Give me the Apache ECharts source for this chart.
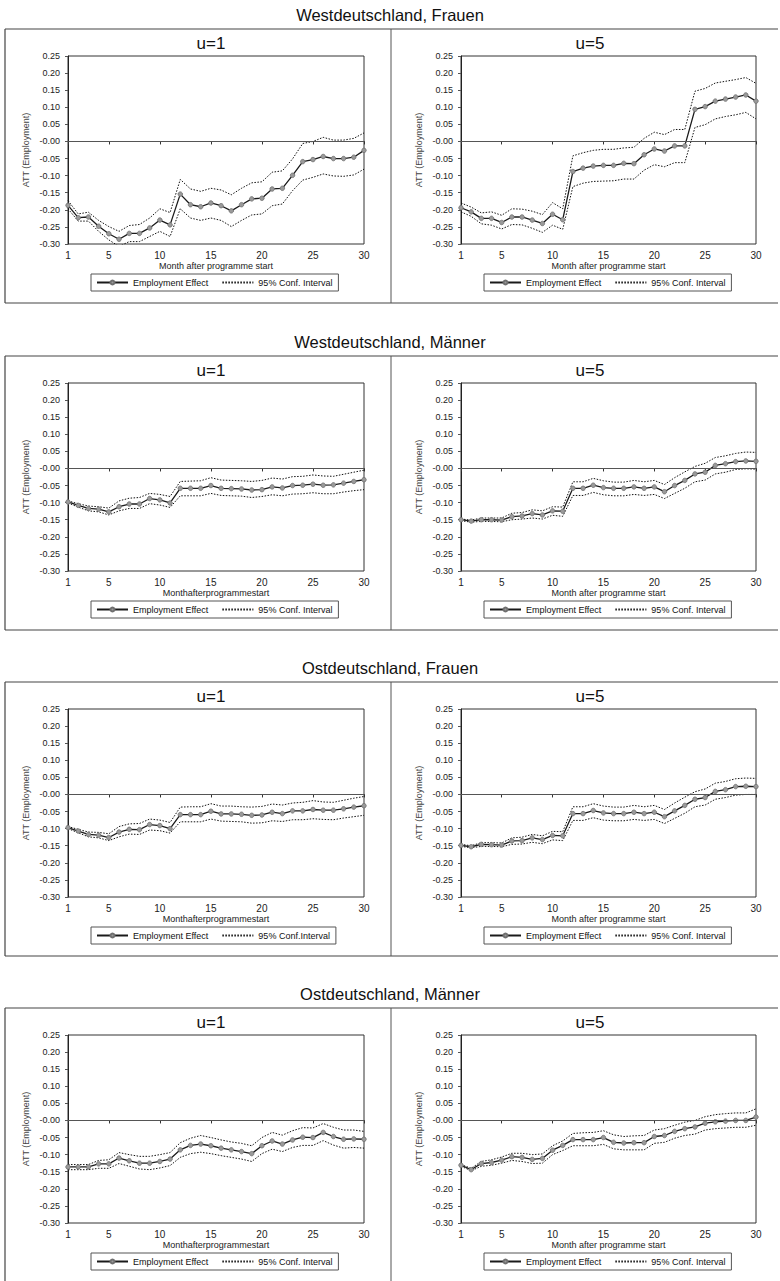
<!DOCTYPE html>
<html>
<head>
<meta charset="utf-8">
<script src="https://cdn.jsdelivr.net/npm/echarts@6/dist/echarts.min.js"></script>
<style>
  html, body { margin: 0; padding: 0; background: #ffffff; }
  #chart { width: 780px; height: 1281px; }
</style>
</head>
<body>
<div id="chart"></div>
<script>
// ---------- DATA ----------
const months = ['1','2','3','4','5','6','7','8','9','10','11','12','13','14','15','16','17','18','19','20','21','22','23','24','25','26','27','28','29','30'];
const xTickLabels = ['1','5','10','15','20','25','30'];
const sectionTitles = ['Westdeutschland, Frauen', 'Westdeutschland, Männer', 'Ostdeutschland, Frauen', 'Ostdeutschland, Männer'];
const panelTitles = ['u=1', 'u=5'];
const effLabel = 'Employment Effect';
const ciLabel = '95% Conf. Interval';
const ciLabelAlt = '95% Conf.Interval';
const yAxisName = 'ATT (Employment)';
const xNameFull = 'Month after programme start';
const xNameSquashed = 'Monthafterprogrammestart';

// Westdeutschland, Frauen, u=1
const wfU1Eff = [-0.187,-0.223,-0.221,-0.248,-0.270,-0.286,-0.269,-0.269,-0.253,-0.230,-0.244,-0.154,-0.185,-0.191,-0.180,-0.188,-0.203,-0.185,-0.168,-0.166,-0.139,-0.137,-0.099,-0.059,-0.053,-0.044,-0.050,-0.050,-0.046,-0.026];
const wfU1Up  = [-0.173,-0.212,-0.207,-0.231,-0.249,-0.263,-0.246,-0.243,-0.224,-0.197,-0.208,-0.111,-0.139,-0.146,-0.137,-0.142,-0.156,-0.137,-0.121,-0.118,-0.090,-0.086,-0.051,-0.006,0.000,0.012,0.004,0.004,0.009,0.025];
const wfU1Lo  = [-0.197,-0.233,-0.233,-0.263,-0.288,-0.307,-0.293,-0.293,-0.278,-0.263,-0.278,-0.197,-0.224,-0.231,-0.224,-0.231,-0.249,-0.231,-0.215,-0.212,-0.188,-0.183,-0.144,-0.113,-0.105,-0.095,-0.101,-0.102,-0.098,-0.081];
// Westdeutschland, Frauen, u=5
const wfU5Eff = [-0.194,-0.206,-0.225,-0.225,-0.237,-0.221,-0.221,-0.230,-0.240,-0.213,-0.229,-0.088,-0.078,-0.072,-0.070,-0.070,-0.064,-0.065,-0.039,-0.022,-0.028,-0.013,-0.013,0.094,0.102,0.118,0.124,0.130,0.136,0.118];
const wfU5Up  = [-0.180,-0.192,-0.209,-0.206,-0.216,-0.197,-0.198,-0.204,-0.214,-0.179,-0.197,-0.042,-0.033,-0.026,-0.023,-0.023,-0.019,-0.017,0.009,0.027,0.020,0.035,0.035,0.147,0.155,0.171,0.176,0.181,0.187,0.170];
const wfU5Lo  = [-0.206,-0.219,-0.241,-0.245,-0.256,-0.243,-0.244,-0.254,-0.266,-0.245,-0.257,-0.132,-0.122,-0.117,-0.116,-0.115,-0.110,-0.110,-0.084,-0.068,-0.074,-0.062,-0.062,0.041,0.049,0.066,0.073,0.078,0.085,0.066];
// Westdeutschland, Männer, u=1
const wmU1Eff = [-0.098,-0.108,-0.117,-0.119,-0.127,-0.112,-0.104,-0.104,-0.088,-0.092,-0.101,-0.058,-0.058,-0.058,-0.050,-0.058,-0.059,-0.060,-0.063,-0.062,-0.054,-0.057,-0.050,-0.049,-0.046,-0.049,-0.048,-0.043,-0.038,-0.033];
const wmU1Up  = [-0.095,-0.103,-0.110,-0.112,-0.116,-0.095,-0.087,-0.085,-0.073,-0.076,-0.082,-0.038,-0.037,-0.036,-0.027,-0.034,-0.035,-0.036,-0.038,-0.035,-0.028,-0.031,-0.024,-0.023,-0.019,-0.022,-0.023,-0.017,-0.011,-0.005];
const wmU1Lo  = [-0.101,-0.113,-0.124,-0.127,-0.136,-0.124,-0.117,-0.117,-0.103,-0.107,-0.114,-0.080,-0.080,-0.080,-0.073,-0.079,-0.080,-0.081,-0.085,-0.082,-0.077,-0.080,-0.075,-0.074,-0.071,-0.074,-0.074,-0.069,-0.065,-0.062];
// Westdeutschland, Männer, u=5
const wmU5Eff = [-0.150,-0.154,-0.150,-0.150,-0.151,-0.141,-0.139,-0.132,-0.136,-0.124,-0.125,-0.058,-0.058,-0.049,-0.056,-0.058,-0.058,-0.054,-0.058,-0.054,-0.068,-0.050,-0.035,-0.016,-0.011,0.009,0.014,0.020,0.022,0.021];
const wmU5Up  = [-0.148,-0.151,-0.145,-0.145,-0.145,-0.131,-0.129,-0.121,-0.124,-0.112,-0.113,-0.039,-0.039,-0.029,-0.036,-0.040,-0.040,-0.035,-0.039,-0.035,-0.047,-0.027,-0.010,0.006,0.015,0.032,0.037,0.044,0.048,0.047];
const wmU5Lo  = [-0.153,-0.157,-0.155,-0.155,-0.156,-0.150,-0.148,-0.145,-0.148,-0.137,-0.140,-0.079,-0.079,-0.070,-0.077,-0.080,-0.080,-0.076,-0.079,-0.076,-0.088,-0.073,-0.058,-0.039,-0.034,-0.016,-0.011,-0.003,-0.001,-0.002];
// Ostdeutschland, Frauen, u=1
const ofU1Eff = [-0.097,-0.107,-0.117,-0.119,-0.126,-0.110,-0.102,-0.103,-0.088,-0.091,-0.100,-0.059,-0.059,-0.059,-0.049,-0.057,-0.057,-0.058,-0.061,-0.060,-0.052,-0.056,-0.048,-0.048,-0.044,-0.046,-0.046,-0.042,-0.037,-0.033];
const ofU1Up  = [-0.094,-0.102,-0.110,-0.111,-0.115,-0.094,-0.086,-0.085,-0.072,-0.075,-0.082,-0.037,-0.036,-0.036,-0.027,-0.034,-0.034,-0.036,-0.037,-0.035,-0.028,-0.031,-0.025,-0.023,-0.018,-0.022,-0.023,-0.017,-0.011,-0.006];
const ofU1Lo  = [-0.100,-0.112,-0.124,-0.127,-0.135,-0.124,-0.116,-0.117,-0.104,-0.106,-0.113,-0.080,-0.080,-0.080,-0.072,-0.078,-0.079,-0.080,-0.084,-0.083,-0.077,-0.079,-0.074,-0.074,-0.071,-0.073,-0.074,-0.069,-0.065,-0.061];
// Ostdeutschland, Frauen, u=5
const ofU5Eff = [-0.149,-0.153,-0.146,-0.147,-0.148,-0.136,-0.135,-0.127,-0.132,-0.120,-0.121,-0.056,-0.056,-0.047,-0.054,-0.056,-0.056,-0.052,-0.056,-0.052,-0.065,-0.048,-0.032,-0.014,-0.009,0.009,0.014,0.023,0.024,0.023];
const ofU5Up  = [-0.146,-0.150,-0.141,-0.141,-0.142,-0.127,-0.125,-0.117,-0.121,-0.108,-0.109,-0.036,-0.036,-0.027,-0.034,-0.037,-0.037,-0.032,-0.036,-0.032,-0.044,-0.025,-0.008,0.008,0.016,0.033,0.038,0.046,0.048,0.047];
const ofU5Lo  = [-0.152,-0.156,-0.152,-0.152,-0.153,-0.146,-0.145,-0.140,-0.144,-0.133,-0.135,-0.076,-0.076,-0.068,-0.075,-0.077,-0.077,-0.073,-0.076,-0.073,-0.085,-0.070,-0.055,-0.036,-0.031,-0.014,-0.009,-0.002,0.000,0.000];
// Ostdeutschland, Männer, u=1
const omU1Eff = [-0.136,-0.136,-0.136,-0.127,-0.127,-0.110,-0.118,-0.125,-0.125,-0.120,-0.113,-0.086,-0.073,-0.069,-0.074,-0.081,-0.086,-0.091,-0.097,-0.074,-0.060,-0.069,-0.057,-0.049,-0.050,-0.035,-0.047,-0.055,-0.054,-0.055];
const omU1Up  = [-0.129,-0.129,-0.129,-0.117,-0.115,-0.094,-0.100,-0.105,-0.105,-0.100,-0.094,-0.065,-0.052,-0.044,-0.050,-0.057,-0.063,-0.067,-0.074,-0.050,-0.035,-0.043,-0.030,-0.021,-0.022,-0.009,-0.020,-0.028,-0.028,-0.032];
const omU1Lo  = [-0.144,-0.144,-0.144,-0.140,-0.140,-0.126,-0.134,-0.142,-0.144,-0.139,-0.132,-0.108,-0.097,-0.093,-0.097,-0.103,-0.108,-0.113,-0.120,-0.097,-0.084,-0.091,-0.079,-0.073,-0.073,-0.059,-0.072,-0.081,-0.079,-0.081];
// Ostdeutschland, Männer, u=5
const omU5Eff = [-0.131,-0.144,-0.126,-0.123,-0.116,-0.106,-0.108,-0.114,-0.111,-0.087,-0.073,-0.056,-0.056,-0.056,-0.050,-0.064,-0.066,-0.065,-0.065,-0.047,-0.044,-0.032,-0.024,-0.019,-0.008,-0.004,-0.002,0.000,0.000,0.010];
const omU5Up  = [-0.129,-0.140,-0.120,-0.115,-0.107,-0.096,-0.096,-0.100,-0.098,-0.074,-0.060,-0.038,-0.036,-0.035,-0.030,-0.042,-0.047,-0.045,-0.044,-0.028,-0.024,-0.014,-0.005,0.000,0.011,0.017,0.020,0.022,0.022,0.034];
const omU5Lo  = [-0.134,-0.147,-0.134,-0.131,-0.125,-0.117,-0.120,-0.126,-0.125,-0.100,-0.088,-0.074,-0.074,-0.074,-0.070,-0.083,-0.086,-0.086,-0.086,-0.067,-0.064,-0.052,-0.044,-0.040,-0.028,-0.024,-0.022,-0.020,-0.020,-0.014];

// ---------- PANEL SETUP ----------
const panels = [
  { s: 0, k: 0, eff: wfU1Eff, up: wfU1Up, lo: wfU1Lo, xName: xNameFull,     ci: ciLabel },
  { s: 0, k: 1, eff: wfU5Eff, up: wfU5Up, lo: wfU5Lo, xName: xNameFull,     ci: ciLabel },
  { s: 1, k: 0, eff: wmU1Eff, up: wmU1Up, lo: wmU1Lo, xName: xNameSquashed, ci: ciLabel },
  { s: 1, k: 1, eff: wmU5Eff, up: wmU5Up, lo: wmU5Lo, xName: xNameFull,     ci: ciLabel },
  { s: 2, k: 0, eff: ofU1Eff, up: ofU1Up, lo: ofU1Lo, xName: xNameSquashed, ci: ciLabelAlt },
  { s: 2, k: 1, eff: ofU5Eff, up: ofU5Up, lo: ofU5Lo, xName: xNameFull,     ci: ciLabel },
  { s: 3, k: 0, eff: omU1Eff, up: omU1Up, lo: omU1Lo, xName: xNameSquashed, ci: ciLabel },
  { s: 3, k: 1, eff: omU5Eff, up: omU5Up, lo: omU5Lo, xName: xNameFull,     ci: ciLabel }
];

const FONT = '"Liberation Sans", Arial, Helvetica, sans-serif';
const boxTops = [29, 356, 682, 1008];
const BOX_H = 274;
const gridLefts = [68, 461];
const gridWidths = [296, 295];
const uCenters = [211, 590];

const showTick = (i) => xTickLabels.indexOf(months[i]) !== -1;

const grids = [], xAxes = [], yAxes = [], series = [], legends = [];

panels.forEach((p, i) => {
  const top = boxTops[p.s];
  grids.push({
    left: gridLefts[p.k], width: gridWidths[p.k], top: top + 27, height: 188,
    show: true, borderColor: '#333', borderWidth: 1, backgroundColor: 'transparent'
  });
  xAxes.push({
    type: 'category', gridIndex: i, data: months, boundaryGap: false,
    axisLine: { show: true, lineStyle: { color: '#222', width: 1 } },
    axisTick: { show: true, interval: (idx) => showTick(idx), length: 3, lineStyle: { color: '#333' } },
    axisLabel: { interval: (idx) => showTick(idx), fontSize: 10, color: '#222', margin: 6, fontFamily: FONT },
    splitLine: { show: false },
    name: p.xName, nameLocation: 'middle', nameGap: 17,
    nameTextStyle: { fontSize: 9, color: '#222', fontFamily: FONT }
  });
  yAxes.push({
    type: 'value', gridIndex: i, min: -0.3, max: 0.25, interval: 0.05,
    axisLine: { show: true, lineStyle: { color: '#222', width: 1 } },
    axisTick: { show: true, length: 3, lineStyle: { color: '#555' } },
    splitLine: { show: false },
    axisLabel: {
      fontSize: 9, color: '#222', margin: 8, fontFamily: FONT,
      formatter: (v) => Math.abs(v) < 1e-9 ? '-0.00' : v.toFixed(2)
    },
    name: yAxisName, nameLocation: 'middle', nameGap: 38, nameRotate: 90,
    nameTextStyle: { fontSize: 9, color: '#444', fontFamily: FONT }
  });
  series.push({
    name: effLabel, type: 'line', xAxisIndex: i, yAxisIndex: i, data: p.eff,
    symbol: 'circle', symbolSize: 4.5, showSymbol: true, z: 4,
    lineStyle: { color: '#1a1a1a', width: 1.3 },
    itemStyle: { color: '#9a9a9a', borderColor: '#707070', borderWidth: 0.8 },
    emphasis: { disabled: true },
    markLine: {
      silent: true, symbol: ['none', 'none'], animation: false,
      label: { show: false },
      lineStyle: { color: '#555', width: 1, type: 'solid' },
      data: [{ yAxis: 0 }]
    }
  });
  series.push({
    name: p.ci, type: 'line', xAxisIndex: i, yAxisIndex: i, data: p.up,
    symbol: 'none', z: 3,
    itemStyle: { color: '#111' },
    lineStyle: { color: '#111', width: 1, type: [1.5, 1.5] },
    emphasis: { disabled: true }
  });
  series.push({
    name: p.ci, type: 'line', xAxisIndex: i, yAxisIndex: i, data: p.lo,
    symbol: 'none', z: 3,
    itemStyle: { color: '#111' },
    lineStyle: { color: '#111', width: 1, type: [1.5, 1.5] },
    emphasis: { disabled: true }
  });
  legends.push({
    data: [
      { name: effLabel },
      { name: p.ci, itemStyle: { color: 'rgba(0,0,0,0)', borderColor: 'rgba(0,0,0,0)', borderWidth: 0 } }
    ],
    selectedMode: false,
    left: gridLefts[p.k] + 23, top: top + 245,
    orient: 'horizontal', itemWidth: 31, itemHeight: 5, itemGap: 13,
    padding: [4, 6, 4, 5],
    borderColor: '#555', borderWidth: 1, backgroundColor: '#fff',
    textStyle: { fontSize: 9, color: '#111', fontFamily: FONT }
  });
});

// ---------- FRAMES & TEXT ----------
const graphics = [];
boxTops.forEach((top, s) => {
  const bot = top + BOX_H;
  const ls = { stroke: '#444', lineWidth: 1.2 };
  graphics.push({ type: 'line', shape: { x1: 5, y1: top, x2: 778, y2: top }, style: ls, silent: true });
  graphics.push({ type: 'line', shape: { x1: 5, y1: bot, x2: 778, y2: bot }, style: ls, silent: true });
  graphics.push({ type: 'line', shape: { x1: 5, y1: top, x2: 5, y2: bot }, style: ls, silent: true });
  graphics.push({ type: 'line', shape: { x1: 391, y1: top, x2: 391, y2: bot }, style: { stroke: '#555', lineWidth: 1 }, silent: true });
  graphics.push({
    type: 'text', x: 390, y: top - 14, silent: true,
    style: { text: sectionTitles[s], fill: '#111', font: '16.5px ' + FONT, align: 'center', verticalAlign: 'middle' }
  });
  panelTitles.forEach((t, k) => {
    graphics.push({
      type: 'text', x: uCenters[k], y: top + 14, silent: true,
      style: { text: t, fill: '#111', font: '17px ' + FONT, align: 'center', verticalAlign: 'middle' }
    });
  });
});

const chart = echarts.init(document.getElementById('chart'), null, { renderer: 'svg' });
chart.setOption({
  animation: false,
  backgroundColor: '#ffffff',
  textStyle: { fontFamily: FONT },
  grid: grids,
  xAxis: xAxes,
  yAxis: yAxes,
  legend: legends,
  series: series,
  graphic: graphics
});
</script>
</body>
</html>
